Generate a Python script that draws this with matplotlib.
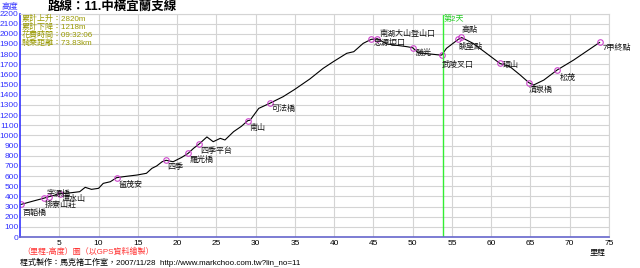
import numpy as np
import matplotlib.pyplot as plt

plt.rcParams['font.family'] = ['Liberation Sans', 'Noto Sans CJK TC', 'DejaVu Sans']

# profile (km, elevation m)
dist = [0.1, 1.5, 3.0, 3.7, 5.1, 5.9, 7.6, 8.3, 9.1, 10.0, 10.6, 11.5, 12.3, 13.2,
        14.9, 16.1, 16.8, 17.4, 18.1, 18.6, 19.5, 20.6, 21.4, 22.1, 22.8, 23.8,
        24.6, 25.5, 26.1, 27.2, 28.2, 29.0, 29.3, 30.4, 31.8, 33.5, 35.0, 36.9,
        38.6, 39.9, 41.6, 42.5, 43.7, 44.7, 45.5, 46.7, 49.3, 50.0, 50.7, 53.5,
        53.7, 54.3, 55.8, 56.2, 57.7, 59.4, 61.1, 62.4, 63.7, 64.8, 65.4, 66.7,
        68.4, 70.5, 73.8]
elev = [320, 350, 381, 397, 426, 430, 446, 489, 469, 479, 528, 544, 584, 594,
        610, 627, 676, 699, 741, 755, 741, 784, 823, 873, 915, 985,
        938, 971, 955, 1037, 1090, 1145, 1150, 1266, 1316, 1381, 1454, 1555,
        1660, 1726, 1808, 1824, 1906, 1945, 1952, 1900, 1873, 1863, 1814, 1791,
        1791, 1857, 1945, 1965, 1906, 1808, 1709, 1676, 1594, 1519, 1496, 1545,
        1644, 1742, 1915]

# waypoints
wp_km = [0.1, 3.0, 3.7, 5.1, 12.3, 18.6, 21.4, 22.8, 29.0, 31.8, 44.7, 45.5,
         50.0, 53.7, 55.8, 56.2, 61.1, 64.8, 68.4, 73.8]
wp_elev = [320, 381, 397, 426, 584, 755, 823, 915, 1145, 1316, 1945, 1952,
           1863, 1791, 1945, 1965, 1709, 1519, 1644, 1915]
wp_name = ['百韜橋', '排寮山莊', '字源橋', '潭水山', '留茂安', '四季', '羅光橋',
           '四季平台', '南山', '可法橋', '南湖大山登山口', '思源埡口', '勝光',
           '武陵叉口', '眺望點', '高點', '環山', '清泉橋', '松茂', '7甲終點']
# label offsets in points (dx, dy)
wp_off = [(1, -6), (1, -5), (-2, 2), (1, -4), (1, -5), (1, -5), (1, -5),
          (1, -5), (1, -5), (1, -4), (6, 4), (-3, -3), (2, -4), (0, -7),
          (0, -5), (0, 5), (2, -1), (0, -5), (2, -6), (2, -4)]

day2_km = 53.8
stats = ['累計上升：2820m', '累計下降：1218m', '花費時間：09:32:06', '騎乘距離：73.83km']

W, H = 640, 268
fig = plt.figure(figsize=(W / 100, H / 100), dpi=100)
x0, x1, y0, y1 = 20, 609, 13.5, 237
ax = fig.add_axes([x0 / W, 1 - y1 / H, (x1 - x0) / W, (y1 - y0) / H])
ax.set_xlim(0, 75)
ax.set_ylim(0, 2200)

ax.set_xticks(np.arange(5, 80, 5))
ax.set_yticks(np.arange(0, 2300, 100))
ax.tick_params(axis='both', length=0, labelsize=6, pad=2)
ax.tick_params(axis='y', labelcolor='#3333ff', pad=1)
ax.grid(True, color='#d4d4d4', linewidth=0.8)
ax.set_axisbelow(True)
for s in ['top', 'right']:
    ax.spines[s].set_color('#d4d4d4')
ax.spines['left'].set_color('#3333ff')
ax.spines['bottom'].set_color('#6666cc')
ax.spines['left'].set_linewidth(1.2)
ax.spines['bottom'].set_linewidth(1.2)

ax.plot(dist, elev, color='black', linewidth=0.8)
ax.plot(wp_km, wp_elev, 'o', markersize=4, markerfacecolor='none',
        markeredgecolor='#cc44cc', markeredgewidth=0.8)
for k, e, n, off in zip(wp_km, wp_elev, wp_name, wp_off):
    ax.annotate(n, (k, e), xytext=off, textcoords='offset points',
                fontsize=5.8, ha='left', va='center', color='#111111')

ax.axvline(day2_km, color='#33ee33', linewidth=1)
ax.text(day2_km + 0.2, 2150, '第2天', color='#22cc22', fontsize=5.8, va='center')

for i, s in enumerate(stats):
    ax.text(0.2, 2145 - i * 80, s, color='#999900', fontsize=5.8, va='center')

fig.text(2 / W, 1 - 7 / H, '高度', color='#3333ff', fontsize=6, va='center')
fig.text(48 / W, 1 - 7 / H, '路線：11.中橫宜蘭支線', color='black', fontsize=9,
         fontweight='bold', va='center')
fig.text(590 / W, 1 - 253 / H, '里程', color='black', fontsize=5.8, va='center')
fig.text(22 / W, 1 - 252 / H, '（里程-高度）圖（以GPS資料繪製）', color='#ff3333',
         fontsize=5.8, va='center')
fig.text(20 / W, 1 - 262 / H,
         '程式製作：馬克褚工作室，2007/11/28  http://www.markchoo.com.tw?lin_no=11',
         color='black', fontsize=5.8, va='center')

fig.savefig('out.png', dpi=100)
